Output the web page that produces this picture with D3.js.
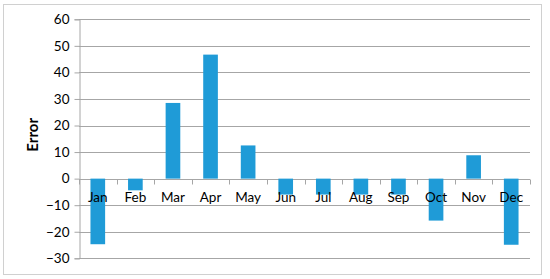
<!DOCTYPE html>
<html><head><meta charset="utf-8">
<script src="https://cdn.jsdelivr.net/npm/d3@7"></script>
<style>body{margin:0;background:#fff}svg{display:block}</style>
</head><body>
<script>
const months = ["Jan","Feb","Mar","Apr","May","Jun","Jul","Aug","Sep","Oct","Nov","Dec"];
const errors = [-24.7, -4.4, 28.5, 46.7, 12.5, -6, -6, -6, -6, -15.8, 8.8, -24.9];
const yTicks = [-30,-20,-10,0,10,20,30,40,50,60];

const W = 550, H = 279;
const svg = d3.select("body").append("svg").attr("width", W).attr("height", H);
svg.append("rect").attr("x",3.5).attr("y",4.5).attr("width",538).attr("height",270)
  .attr("fill","#fff").attr("stroke","#d0d0d0").attr("stroke-width",1);

const pLeft = 79, pRight = 530, pTop = 19.3, pBottom = 258.3;
const x = d3.scaleBand().domain(months).range([pLeft,pRight]).paddingInner(0.61).paddingOuter(0.305);
const y = d3.scaleLinear().domain([-30,60]).range([pBottom, pTop]);
const font = "Lato, 'Open Sans', sans-serif";

// gridlines
svg.append("g").selectAll("line").data(yTicks).join("line")
  .attr("x1", pLeft).attr("x2", pRight)
  .attr("y1", d => Math.round(y(d))+0.5).attr("y2", d => Math.round(y(d))+0.5)
  .attr("stroke", "#a6a6a6").attr("stroke-width", 1);

// y axis line + ticks
const yAxis = d3.axisLeft(y).tickValues(yTicks).tickSize(5).tickPadding(5);
const gy = svg.append("g").attr("transform", `translate(${pLeft+0.5},0)`).call(yAxis);
gy.select(".domain").attr("stroke","#a6a6a6");
gy.selectAll(".tick line").attr("stroke","#a6a6a6");
gy.selectAll(".tick text").attr("font-family", font).attr("font-size", 13.5).attr("fill","#000");

// bars
svg.append("g").selectAll("rect").data(months).join("rect")
  .attr("x", (d) => x(d))
  .attr("width", x.bandwidth())
  .attr("y", (d,i) => y(Math.max(0, errors[i])))
  .attr("height", (d,i) => Math.abs(y(errors[i]) - y(0)))
  .attr("fill", "#1f9bd7");

// zero axis with boundary ticks
const zy = Math.round(y(0))+0.5;
const boundaries = d3.range(months.length+1).map(i => pLeft + i*(pRight-pLeft)/months.length);
svg.append("g").selectAll("line").data(boundaries).join("line")
  .attr("x1", d => Math.round(d)+0.5).attr("x2", d => Math.round(d)+0.5)
  .attr("y1", zy).attr("y2", zy+5).attr("stroke","#a6a6a6");

// category labels
svg.append("g").selectAll("text").data(months).join("text")
  .attr("x", d => x(d) + x.bandwidth()/2)
  .attr("y", zy + 22.5)
  .attr("text-anchor","middle")
  .attr("font-family", font).attr("font-size", 13.5).attr("fill","#000")
  .text(d => d);

// y axis title
svg.append("text")
  .attr("transform", `translate(38,${(pTop+pBottom)/2 - 4}) rotate(-90)`)
  .attr("text-anchor","middle")
  .attr("font-family", font).attr("font-size", 15).attr("font-weight","bold")
  .text("Error");
</script>
</body></html>
